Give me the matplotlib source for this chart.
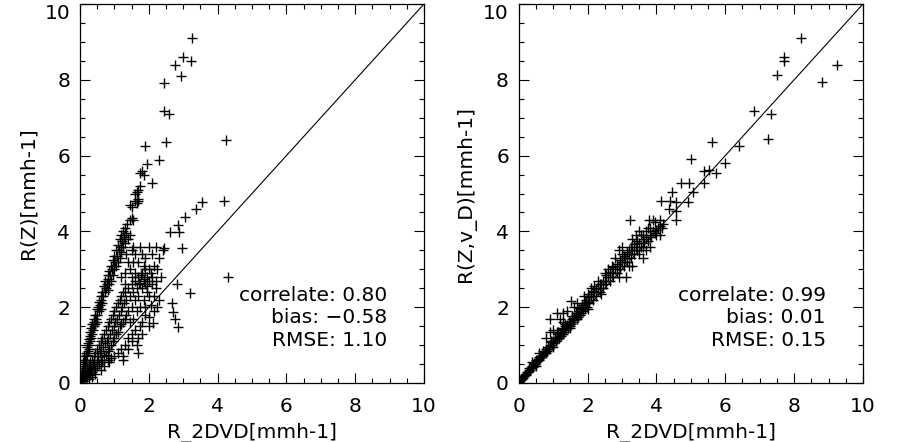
import matplotlib
matplotlib.use("Agg")
import matplotlib.pyplot as plt
from matplotlib.ticker import MultipleLocator

# ---------------- data: left panel R(Z) vs R_2DVD ----------------
left_x = [
    # steep branch
    0.02, 0.04, 0.05, 0.07, 0.08, 0.10, 0.10, 0.12, 0.13, 0.15, 0.15, 0.17, 0.18, 0.20, 0.20, 0.22,
    0.23, 0.25, 0.25, 0.27, 0.28, 0.30, 0.30, 0.32, 0.33, 0.35, 0.36, 0.38, 0.40, 0.40, 0.42, 0.44,
    0.45, 0.47, 0.48, 0.50, 0.50, 0.52, 0.55, 0.55, 0.58, 0.60, 0.60, 0.62, 0.65, 0.65, 0.68, 0.70,
    0.72, 0.74, 0.75, 0.78, 0.80, 0.80, 0.82, 0.85, 0.85, 0.88, 0.90, 0.90, 0.92, 0.95, 0.95, 0.98,
    1.00, 1.00, 1.02, 1.05, 1.05, 1.08, 1.10, 1.10, 1.12, 1.15, 1.15, 1.18, 1.20, 1.20, 1.22, 1.25,
    1.25, 1.28, 1.30, 1.32, 1.35, 1.38, 1.40, 1.45, 1.50, 1.55, 1.45, 1.50,
    1.50, 1.60, 1.65, 1.70, 1.65, 1.70, 1.75, 1.75, 1.80, 1.85, 1.60, 1.45, 1.68,
    # scatter between branches
    1.30, 1.40, 1.45, 1.30, 1.25, 1.50, 1.55, 1.60, 1.20, 1.35, 1.55, 1.60, 1.70, 1.75, 1.80, 1.85,
    2.00, 2.10, 2.20, 2.40, 2.30, 2.15, 2.00, 1.90, 2.25, 2.35, 2.20, 2.10,
    # lower branch
    0.05, 0.08, 0.10, 0.12, 0.15, 0.15, 0.18, 0.20, 0.20, 0.22, 0.25, 0.25, 0.28, 0.30, 0.30, 0.32,
    0.35, 0.35, 0.38, 0.40, 0.40, 0.42, 0.45, 0.45, 0.48, 0.50, 0.50, 0.52, 0.55, 0.55, 0.58, 0.60,
    0.60, 0.62, 0.65, 0.65, 0.68, 0.70, 0.70, 0.72, 0.75, 0.75, 0.78, 0.80, 0.80, 0.82, 0.85, 0.85,
    0.88, 0.90, 0.90, 0.92, 0.95, 0.95, 0.98, 1.00, 1.00, 1.02, 1.05, 1.05, 1.08, 1.10, 1.10, 1.12,
    1.15, 1.15, 1.18, 1.20, 1.20, 1.22, 1.25, 1.28, 1.30, 1.30, 1.35, 1.35, 1.40, 1.40, 1.45, 1.45,
    1.50, 1.50, 1.55, 1.55, 1.60, 1.60, 1.65, 1.65, 1.70, 1.70, 1.75, 1.75, 1.80, 1.80, 1.85, 1.85,
    1.90, 1.90, 1.95, 1.95, 2.00, 2.05, 2.10, 2.00, 2.15, 2.20, 2.30, 2.25, 2.05, 1.90, 2.15, 2.00,
    1.80, 1.70, 1.60, 1.50, 1.40, 1.30, 1.20, 1.10, 1.00, 0.90, 0.80, 1.40, 1.25, 1.50, 1.65, 1.80,
    1.90, 1.75, 0.02, 0.05, 0.03, 0.10, 0.60, 0.45, 0.35, 0.25, 0.70, 0.85, 1.72, 1.85, 1.95, 1.78,
    # outliers
    3.25, 3.00, 3.23, 2.76, 2.94, 2.45, 2.45, 2.59, 2.49, 4.24, 1.89, 2.30, 1.94, 2.08, 4.19, 3.56,
    3.37, 3.05, 2.86, 2.62, 2.88, 2.96, 2.43, 4.29, 2.82, 3.21, 2.67, 2.70, 2.75, 2.84, 2.12, 2.01,
    1.69, 1.26,
]
left_y = [
    0.05, 0.15, 0.30, 0.20, 0.40, 0.35, 0.55, 0.50, 0.70, 0.45, 0.62, 0.80, 0.60, 0.75, 0.95, 0.85,
    1.05, 0.90, 1.15, 1.00, 1.25, 1.10, 1.35, 1.20, 1.45, 1.30, 1.55, 1.40, 1.50, 1.70, 1.60, 1.80,
    1.55, 1.70, 1.95, 1.80, 1.60, 2.00, 1.90, 2.15, 2.05, 2.30, 1.95, 2.20, 2.40, 2.10, 2.30, 2.55,
    2.40, 2.70, 2.50, 2.60, 2.85, 2.45, 2.75, 2.95, 2.60, 2.85, 3.10, 2.70, 3.00, 3.25, 2.85, 3.10,
    3.35, 3.00, 3.20, 3.50, 3.10, 3.35, 3.65, 3.20, 3.50, 3.80, 3.30, 3.60, 3.90, 3.45, 3.75, 4.00,
    3.60, 3.85, 4.10, 3.70, 3.95, 4.20, 3.80, 4.30, 4.35, 4.30, 3.90, 3.50,
    4.65, 4.80, 4.75, 4.85, 5.05, 5.10, 5.20, 5.55, 5.60, 5.50, 5.00, 4.70, 4.80,
    2.90, 3.20, 3.00, 2.60, 2.40, 2.80, 3.20, 2.90, 2.80, 3.40, 3.60, 3.40, 3.20, 3.60, 3.40, 3.10,
    3.60, 3.40, 3.60, 3.50, 3.30, 3.10, 3.00, 3.30, 3.00, 2.80, 2.70, 2.80,
    0.05, 0.10, 0.05, 0.20, 0.10, 0.30, 0.25, 0.15, 0.40, 0.30, 0.20, 0.45, 0.35, 0.25, 0.55, 0.40,
    0.30, 0.60, 0.50, 0.35, 0.70, 0.55, 0.40, 0.80, 0.60, 0.45, 0.90, 0.70, 0.50, 1.00, 0.80, 0.55,
    1.10, 0.85, 0.60, 1.20, 0.95, 0.70, 1.30, 1.05, 0.75, 1.40, 1.10, 0.85, 1.50, 1.20, 0.90, 1.60,
    1.30, 1.00, 1.70, 1.40, 1.10, 1.80, 1.50, 1.20, 1.90, 1.60, 1.30, 2.00, 1.70, 1.35, 2.10, 1.80,
    1.50, 2.20, 1.90, 1.55, 2.30, 2.00, 1.60, 2.10, 1.70, 2.40, 2.20, 1.80, 2.50, 1.90, 2.30, 1.60,
    2.60, 2.00, 2.40, 1.70, 2.70, 2.20, 2.50, 1.90, 2.80, 2.30, 2.60, 2.00, 2.90, 2.50, 2.70, 2.20,
    3.00, 2.60, 2.80, 2.40, 2.70, 2.90, 2.60, 2.30, 2.30, 2.50, 2.20, 2.00, 2.05, 1.80, 1.90, 1.50,
    1.30, 1.20, 1.40, 1.30, 1.20, 1.00, 0.90, 0.80, 0.70, 0.65, 0.60, 0.90, 0.70, 1.10, 1.00, 1.60,
    2.00, 1.50, 0.00, 0.20, 0.10, 0.15, 0.35, 0.25, 0.15, 0.10, 0.45, 0.55, 2.65, 2.75, 2.55, 2.85,
    9.09, 8.59, 8.50, 8.38, 8.11, 7.92, 7.18, 7.11, 6.37, 6.41, 6.26, 5.89, 5.79, 5.27, 4.79, 4.77,
    4.58, 4.37, 4.16, 3.98, 3.98, 3.55, 3.55, 2.79, 2.60, 2.37, 2.12, 1.88, 1.69, 1.47, 1.59, 1.75,
    0.78, 0.60,
]

# ---------------- data: right panel R(Z,v_D) vs R_2DVD ----------------
right_x = [
    0.02, 0.05, 0.08, 0.10, 0.12, 0.15, 0.18, 0.20, 0.22, 0.25, 0.28, 0.30, 0.32, 0.35, 0.38, 0.40,
    0.42, 0.45, 0.48, 0.50, 0.52, 0.55, 0.58, 0.60, 0.62, 0.65, 0.68, 0.70, 0.72, 0.75, 0.78, 0.80,
    0.82, 0.85, 0.88, 0.90, 0.92, 0.95, 0.98, 1.00, 1.02, 1.05, 1.08, 1.10, 1.12, 1.15, 1.18, 1.20,
    1.22, 1.25, 1.28, 1.30, 1.32, 1.35, 1.38, 1.40, 1.42, 1.45, 1.48, 1.50, 1.52, 1.55, 1.58, 1.60,
    1.62, 1.65, 1.68, 1.70, 1.72, 1.75, 1.78, 1.80, 1.82, 1.85, 1.88, 1.90, 1.92, 1.95, 1.98, 2.00,
    2.05, 2.10, 2.15, 2.20, 2.25, 2.30, 2.35, 2.40, 2.45, 2.50, 2.55, 2.60, 2.65, 2.70, 2.75, 2.80,
    2.85, 2.90, 2.95, 3.00, 3.05, 3.10, 3.15, 3.20, 3.25, 3.30, 3.35, 3.40, 3.45, 3.50, 3.55, 3.60,
    3.65, 3.70, 3.75, 3.80, 3.85, 3.90, 3.95, 4.00, 4.05, 4.10, 4.15, 4.20,
    # upper side of band
    2.70, 2.80, 2.90, 3.00, 3.10, 3.20, 3.40, 3.50, 3.60, 3.30, 3.70, 3.90, 2.50, 2.30, 2.10, 1.90,
    1.70, 1.40, 1.20, 0.80, 0.90, 1.00, 1.60, 3.00, 3.80, 2.20, 2.00, 1.30, 1.10, 0.60, 0.40, 2.60,
    0.30, 0.50, 0.70, 0.95, 1.15, 1.35, 1.55, 1.75, 1.95, 2.15, 2.35, 2.55, 2.75, 2.95, 3.15, 3.35,
    3.55, 3.75, 3.95, 1.05, 1.25, 1.45, 1.65, 1.85, 2.05, 2.25, 2.45, 2.65, 2.85, 3.05, 3.25, 3.45,
    # lower side of band
    3.50, 3.20, 2.90, 3.60, 3.70, 3.30, 3.13, 4.00, 3.60, 3.80, 4.10, 2.40, 2.00, 1.50, 1.00, 0.50,
    # scattered / outliers
    1.52, 0.91, 1.10, 1.30, 1.93, 3.23, 3.79, 4.10, 4.56, 4.14, 4.38, 4.56, 4.92, 4.37, 4.56, 4.44,
    5.05, 4.70, 4.94, 5.38, 5.53, 5.72, 5.38, 4.99, 5.99, 5.62, 6.40, 7.25, 7.33, 6.83, 7.51, 7.71,
    7.71, 8.82, 9.24, 8.19,
]
right_y = [
    0.02, 0.06, 0.10, 0.12, 0.12, 0.18, 0.20, 0.24, 0.22, 0.30, 0.30, 0.35, 0.33, 0.40, 0.42, 0.45,
    0.43, 0.52, 0.50, 0.55, 0.58, 0.60, 0.60, 0.68, 0.65, 0.72, 0.70, 0.78, 0.75, 0.82, 0.80, 0.90,
    0.85, 0.95, 0.90, 1.00, 0.95, 1.08, 1.00, 1.10, 1.05, 1.18, 1.10, 1.22, 1.15, 1.30, 1.20, 1.32,
    1.25, 1.40, 1.30, 1.42, 1.35, 1.50, 1.40, 1.52, 1.45, 1.60, 1.50, 1.62, 1.55, 1.70, 1.60, 1.72,
    1.65, 1.80, 1.70, 1.85, 1.75, 1.90, 1.80, 1.95, 1.85, 2.00, 1.90, 2.05, 1.95, 2.10, 2.00, 2.15,
    2.10, 2.30, 2.20, 2.40, 2.30, 2.50, 2.40, 2.60, 2.50, 2.70, 2.60, 2.80, 2.70, 2.90, 2.80, 3.00,
    2.90, 3.10, 3.00, 3.20, 3.10, 3.30, 3.20, 3.40, 3.30, 3.50, 3.40, 3.60, 3.50, 3.70, 3.60, 3.80,
    3.70, 3.85, 3.75, 3.90, 3.85, 4.00, 3.95, 4.05, 4.10, 4.15, 4.10, 4.20,
    3.10, 3.30, 3.50, 3.60, 3.30, 3.50, 3.90, 4.00, 3.90, 3.80, 4.00, 4.30, 2.90, 2.70, 2.50, 2.30,
    2.10, 1.90, 1.70, 1.20, 1.35, 1.40, 2.00, 3.40, 4.10, 2.55, 2.35, 1.60, 1.35, 0.80, 0.55, 3.00,
    0.40, 0.62, 0.85, 1.12, 1.35, 1.55, 1.78, 1.98, 2.20, 2.42, 2.62, 2.85, 3.05, 3.25, 3.45, 3.68,
    3.90, 4.08, 4.25, 1.20, 1.45, 1.62, 1.85, 2.05, 2.28, 2.48, 2.70, 2.92, 3.15, 3.35, 3.58, 3.75,
    3.40, 3.10, 2.80, 3.30, 3.50, 3.10, 2.80, 3.90, 3.60, 3.60, 3.90, 2.35, 1.95, 1.45, 0.95, 0.45,
    2.16, 1.70, 1.85, 1.85, 2.10, 4.30, 4.30, 4.30, 4.30, 4.79, 4.79, 4.78, 4.77, 4.58, 4.55, 5.05,
    5.05, 5.28, 5.28, 5.29, 5.61, 5.54, 5.60, 5.90, 5.80, 6.37, 6.26, 6.43, 7.11, 7.17, 8.12, 8.59,
    8.50, 7.93, 8.38, 9.09,
]

left_stats = ["correlate: 0.80", "bias: \u22120.58", "RMSE: 1.10"]
right_stats = ["correlate: 0.99", "bias: 0.01", "RMSE: 0.15"]
x_label = "R_2DVD[mmh-1]"
left_ylabel = "R(Z)[mmh-1]"
right_ylabel = "R(Z,v_D)[mmh-1]"
ticks = [0, 2, 4, 6, 8, 10]

plt.rcParams['font.family'] = ['DejaVu Sans']
fig = plt.figure(figsize=(8.99, 4.42), dpi=100)
ax1 = fig.add_axes([80 / 899, 59 / 442, 344 / 899, 379 / 442])
ax2 = fig.add_axes([518.7 / 899, 59 / 442, 344.3 / 899, 379 / 442])

for ax, xs, ys, yl, stats in [(ax1, left_x, left_y, left_ylabel, left_stats),
                              (ax2, right_x, right_y, right_ylabel, right_stats)]:
    ax.plot([0, 10], [0, 10], color='black', lw=0.8)
    ax.plot(xs, ys, linestyle='none', marker='+', color='black', markersize=7.5, markeredgewidth=1.0)
    ax.set_xlim(0, 10)
    ax.set_ylim(0, 10)
    ax.set_xticks(ticks)
    ax.set_yticks(ticks)
    ax.xaxis.set_minor_locator(MultipleLocator(0.5))
    ax.yaxis.set_minor_locator(MultipleLocator(0.5))
    ax.tick_params(which='both', direction='in', top=True, right=True, labelsize=14.5, width=0.8)
    ax.tick_params(which='major', length=7, pad=7)
    ax.tick_params(axis='x', which='major', pad=10)
    ax.tick_params(which='minor', length=3.5)
    for s in ax.spines.values():
        s.set_linewidth(0.9)
    ax.set_xlabel(x_label, fontsize=14.5, labelpad=5)
    ax.set_ylabel(yl, fontsize=14.5, labelpad=5)
    ys_txt = [2.32, 1.74, 1.11]
    for t, yy in zip(stats, ys_txt):
        ax.text(8.92, yy, t, ha='right', va='center', fontsize=14.5)

fig.canvas.draw()
for ax in (ax1, ax2):
    lbls = ax.get_yticklabels()
    lbls[-1].set_va('top')

fig.savefig("out.png", dpi=100)
